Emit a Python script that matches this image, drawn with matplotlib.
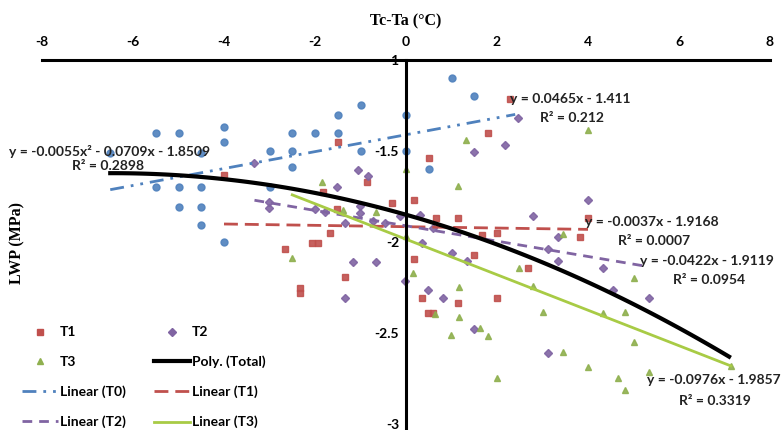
import numpy as np
import matplotlib
matplotlib.use("Agg")
import matplotlib.pyplot as plt
from matplotlib.lines import Line2D

plt.rcParams['axes.unicode_minus'] = False
plt.rcParams['font.family'] = ['Lato', 'DejaVu Sans']

# ---------------- data ----------------
t0_x = [1.0, 1.5, 0.0, 0.0, 0.5, -1.0, -1.5, -4.0, -4.0, -5.5, -5.0, -2.5, -2.0, -1.5,
        -6.5, -4.5, -2.5, -1.0, -3.0, -2.5, -5.5, -5.0, -4.5, -3.0, -5.0, -4.5, -4.5, -4.0]
t0_y = [-1.10, -1.20, -1.30, -1.50, -1.60, -1.25, -1.30, -1.37, -1.45, -1.40, -1.40, -1.40, -1.40, -1.40,
        -1.51, -1.51, -1.50, -1.50, -1.50, -1.59, -1.70, -1.70, -1.70, -1.70, -1.81, -1.81, -1.91, -2.00]

t1_x = [-4.0, -1.5, -0.85, -1.83, -0.3, 0.18, -1.67, -1.94, -2.07, -2.67, -1.34, -2.33, -2.33, 0.18,
        0.35, 0.48, 0.6, 2.29, 1.81, 0.51, 0.66, 1.15, 4.01, 2.0, 1.67, 3.83, 1.5, 2.69, 1.15, 2.0, -1.52]
t1_y = [-1.63, -1.45, -1.67, -1.725, -1.786, -1.769, -1.951, -2.005, -2.005, -2.038, -2.192, -2.253, -2.28, -2.093,
        -2.308, -2.39, -2.39, -1.214, -1.401, -1.538, -1.868, -1.868, -1.868, -1.951, -1.962, -1.973, -2.071,
        -2.143, -2.335, -2.308, -1.819]

t2_x = [-3.33, -1.06, -0.84, -1.52, -3.02, -3.02, -1.01, -1.01, -1.34, -1.17, -0.66, -1.34, -0.02, 0.35,
        0.48, 2.47, 2.18, 1.5, 4.01, 2.8, 0.31, 3.33, 3.13, 3.33, 1.01, 1.34, 0.81, 1.5, 3.13, 4.34, 4.54,
        5.33, -2.0, -1.78, -0.13, -0.73, -0.46, 0.59]
t2_y = [-1.566, -1.604, -1.637, -1.698, -1.78, -1.813, -1.802, -1.841, -1.896, -2.11, -2.11, -2.308, -2.214, -2.005,
        -2.264, -1.319, -1.467, -1.505, -1.769, -1.857, -1.852, -1.973, -2.038, -2.104, -2.06, -2.104, -2.308,
        -2.478, -2.61, -2.143, -2.264, -2.308, -1.819, -1.835, -1.857, -1.885, -1.896, -1.923]

t3_x = [-1.85, -1.39, 0.0, -2.51, 0.0, 0.15, 1.32, 3.99, 1.15, 1.17, 1.17, 0.64, 1.63, 1.81, 0.99, 2.49,
        3.46, 2.8, 3.0, 3.46, 2.0, 3.99, 4.32, 4.82, 5.0, 4.65, 4.82, 5.33, 5.0, 7.14, -0.66]
t3_y = [-1.67, -1.824, -1.599, -2.088, -1.967, -2.17, -1.44, -1.385, -1.692, -2.247, -2.412, -2.396, -2.473,
        -2.516, -2.511, -2.143, -1.956, -2.242, -2.385, -2.604, -2.747, -2.687, -2.39, -2.385, -2.549, -2.747,
        -2.813, -2.714, -2.198, -2.681, -1.835]

# trendline coefficients (highest power first) and x-extent, as printed on the chart
poly_total_coef = [-0.0055, -0.0709, -1.8509]
poly_total_range = [-6.5, 7.1]
lin_t0_coef = [0.0465, -1.411]
lin_t0_range = [-6.5, 2.4]
lin_t1_coef = [-0.0037, -1.9168]
lin_t1_range = [-4.0, 4.0]
lin_t2_coef = [-0.0422, -1.9119]
lin_t2_range = [-3.33, 5.3]
lin_t3_coef = [-0.0976, -1.9857]
lin_t3_range = [-2.5, 7.14]

x_ticks = [-8, -6, -4, -2, 0, 2, 4, 6, 8]
y_ticks = [-1, -1.5, -2, -2.5, -3]
y_tick_labels = ["-1", "-1.5", "-2", "-2.5", "-3"]

legend_labels = ["T1", "T2", "T3", "Poly. (Total)", "Linear (T0)", "Linear (T1)", "Linear (T2)", "Linear (T3)"]

# ---------------- styles ----------------
C0, C1, C2, C3 = "#4F81BD", "#C0504D", "#8064A2", "#8FB04F"
C3_line = "#A8CB45"

fig = plt.figure(figsize=(7.82, 4.30), dpi=100)
ax = fig.add_axes([42 / 782, 0.0, 728 / 782, 1 - 60 / 430])
ax.set_xlim(-8, 8)
ax.set_ylim(-3.035, -1)

ms = 5.0
ax.plot(t0_x, t0_y, 'o', color=C0, ms=ms, mec=C0, alpha=0.9, zorder=3)
ax.plot(t1_x, t1_y, 's', color=C1, ms=ms, mec=C1, alpha=0.9, zorder=3)
ax.plot(t2_x, t2_y, 'D', color=C2, ms=ms - 0.6, mec=C2, alpha=0.9, zorder=3)
ax.plot(t3_x, t3_y, '^', color=C3, ms=ms, mec=C3, alpha=0.9, zorder=3)

def line(coef, rng, **kw):
    xs = np.linspace(rng[0], rng[1], 100)
    return ax.plot(xs, np.polyval(coef, xs), **kw)[0]

h_t0 = line(lin_t0_coef, lin_t0_range, color=C0, lw=2.0, ls=(0, (5, 2.5, 1, 2.5, 1, 2.5)), zorder=4)
h_t1 = line(lin_t1_coef, lin_t1_range, color=C1, lw=2.0, ls=(0, (5, 2.5)), zorder=4)
h_t2 = line(lin_t2_coef, lin_t2_range, color=C2, lw=2.0, ls=(0, (3.5, 2.5)), zorder=4)
h_t3 = line(lin_t3_coef, lin_t3_range, color=C3_line, lw=2.0, zorder=4)
h_poly = line(poly_total_coef, poly_total_range, color='black', lw=3.0, zorder=5)

# axes / spines
for s in ['right', 'bottom']:
    ax.spines[s].set_visible(False)
ax.spines['top'].set_linewidth(2.2)
ax.spines['left'].set_linewidth(2.2)
ax.spines['left'].set_position(('data', 0))
ax.spines['left'].set_zorder(6)
ax.spines['top'].set_zorder(6)

ax.xaxis.tick_top()
ax.set_xticks(x_ticks)
ax.set_xticklabels([str(v) for v in x_ticks])
ax.set_yticks(y_ticks)
ax.set_yticklabels(y_tick_labels)
ax.tick_params(axis='x', length=0, pad=9, labelsize=10)
ax.tick_params(axis='y', length=0, pad=5, labelsize=10)
for lab in ax.get_xticklabels() + ax.get_yticklabels():
    lab.set_fontweight('bold')

ax.xaxis.set_label_position('top')
ax.set_xlabel("Tc-Ta (°C)", fontsize=11.5, fontweight='bold', family='Liberation Serif', labelpad=7)
fig.text(17 / 782, 1 - 243 / 430, "LWP (MPa)", rotation=90, ha='center', va='center',
         fontsize=11.5, fontweight='bold', family='Liberation Serif')

# equations
eq_kw = dict(fontsize=10, fontweight='bold', color='#222222', zorder=7, clip_on=False, va='center')
ax.text(-8.72, -1.505, "y = -0.0055x² - 0.0709x - 1.8509", **eq_kw)
ax.text(-6.55, -1.582, "R² = 0.2898", ha='center', **eq_kw)
ax.text(2.29, -1.214, "y = 0.0465x - 1.411", **eq_kw)
ax.text(2.95, -1.319, "R² = 0.212", **eq_kw)
ax.text(3.94, -1.89, "y = -0.0037x - 1.9168", **eq_kw)
ax.text(4.65, -1.995, "R² = 0.0007", **eq_kw)
ax.text(5.15, -2.104, "y = -0.0422x - 1.9119", **eq_kw)
ax.text(5.86, -2.209, "R² = 0.0954", **eq_kw)
ax.text(5.29, -2.758, "y = -0.0976x - 1.9857", **eq_kw)
ax.text(5.99, -2.874, "R² = 0.3319", **eq_kw)

# legend (row-major order in reference -> column-major handles)
hm_t1 = Line2D([], [], marker='s', ls='', color=C1, ms=4.5)
hm_t2 = Line2D([], [], marker='D', ls='', color=C2, ms=4)
hm_t3 = Line2D([], [], marker='^', ls='', color=C3, ms=4.5)
handles = [hm_t1, hm_t3, h_t0, h_t2, hm_t2, h_poly, h_t1, h_t3]
labels = [legend_labels[i] for i in [0, 2, 4, 6, 1, 3, 5, 7]]
leg = fig.legend(handles, labels, ncol=2, loc='upper left', bbox_to_anchor=(0.012, 0.27),
                 frameon=False, prop={'family': 'Lato', 'weight': 'bold', 'size': 10},
                 handlelength=2.6, handletextpad=0.15, labelspacing=1.25, columnspacing=2.0)

fig.savefig("out.png", dpi=100)
